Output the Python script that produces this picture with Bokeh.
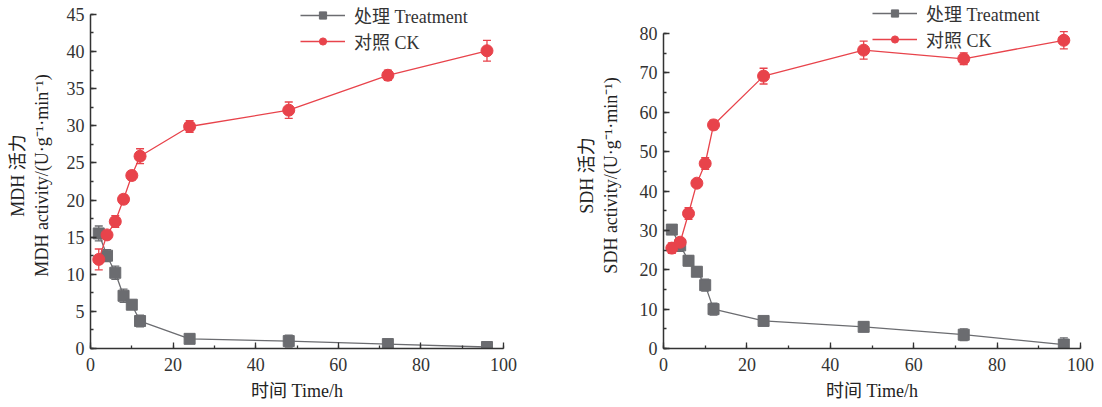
from bokeh.plotting import figure
from bokeh.layouts import row
from bokeh.models import (ColumnDataSource, Whisker, TeeHead, Legend, LegendItem, Range1d,
                          SingleIntervalTicker)
from bokeh.embed import file_html
from bokeh.resources import INLINE

time_h = [2, 4, 6, 8, 10, 12, 24, 48, 72, 96]

mdh_treat = [15.5, 12.5, 10.2, 7.1, 5.9, 3.7, 1.3, 1.0, 0.6, 0.2]
mdh_treat_err = [1.0, 0.8, 0.9, 0.9, 0.6, 0.8, 0.6, 0.8, 0.3, 0.2]
mdh_ck = [12.0, 15.3, 17.1, 20.1, 23.3, 25.9, 29.9, 32.1, 36.8, 40.1]
mdh_ck_err = [1.4, 0.5, 0.8, 0.6, 0.6, 1.0, 0.8, 1.1, 0.7, 1.4]

sdh_treat = [30.2, 26.2, 22.3, 19.5, 16.1, 10.0, 7.0, 5.5, 3.5, 1.0]
sdh_treat_err = [0.8, 1.5, 1.3, 1.2, 1.5, 1.5, 1.0, 1.2, 1.5, 1.7]
sdh_ck = [25.5, 27.0, 34.3, 42.0, 47.0, 56.8, 69.2, 75.8, 73.6, 78.3]
sdh_ck_err = [1.3, 1.0, 1.5, 0.8, 1.5, 1.2, 2.0, 2.3, 1.5, 2.2]

labels = ["处理 Treatment", "对照 CK"]
x_title = "时间 Time/h"
mdh_title = "MDH 活力\nMDH activity/(U·g\u207b\u00b9·min\u207b\u00b9)"
sdh_title = "SDH 活力\nSDH activity/(U·g\u207b\u00b9·min\u207b\u00b9)"

GRAY = "#6b6c70"
RED = "#e8434b"
FONT = "'Liberation Serif', 'Noto Sans CJK SC'"
AX = "#333333"

H = 407
BOTTOM = 59
TOP = 2


def make(treat, terr, ck, cerr, ymax, ytop, ystep, ytitle, width, border_left, border_right,
         legend_loc, ylab_standoff):
    p = figure(width=width, height=H, output_backend="svg", toolbar_location=None,
               x_range=Range1d(0, 100), y_range=Range1d(0, ytop),
               min_border_left=border_left, min_border_right=border_right,
               min_border_top=TOP, min_border_bottom=BOTTOM)
    p.outline_line_color = None
    p.grid.visible = False
    p.xaxis.ticker = SingleIntervalTicker(interval=20, num_minor_ticks=2)
    p.yaxis.ticker = SingleIntervalTicker(interval=ystep, num_minor_ticks=2)
    p.yaxis.bounds = (0, ymax)
    for ax in (p.xaxis[0], p.yaxis[0]):
        ax.axis_line_color = AX
        ax.axis_line_width = 1.5
        ax.major_tick_in = 6
        ax.major_tick_out = 0
        ax.minor_tick_in = 3
        ax.minor_tick_out = 0
        ax.major_tick_line_color = AX
        ax.minor_tick_line_color = AX
        ax.major_tick_line_width = 1.3
        ax.minor_tick_line_width = 1.3
        ax.major_label_text_font = FONT
        ax.major_label_text_font_size = "18px"
        ax.major_label_text_color = "#333333"
        ax.axis_label_text_font = FONT
        ax.axis_label_text_font_size = "18px"
        ax.axis_label_text_font_style = "normal"
        ax.axis_label_text_color = "#222222"
    p.xaxis.axis_label = x_title
    p.yaxis.axis_label = ytitle
    p.xaxis.major_label_standoff = 9
    p.yaxis.major_label_standoff = 6
    p.xaxis.axis_label_standoff = 7
    p.yaxis.axis_label_standoff = ylab_standoff

    items = []
    for vals, errs, color, marker, lab in ((treat, terr, GRAY, "square", labels[0]),
                                           (ck, cerr, RED, "circle", labels[1])):
        src = ColumnDataSource(dict(x=time_h, y=vals,
                                    lo=[v - e for v, e in zip(vals, errs)],
                                    hi=[v + e for v, e in zip(vals, errs)]))
        w = Whisker(source=src, base="x", upper="hi", lower="lo", line_color=color, line_width=1.3,
                    upper_head=TeeHead(size=8, line_color=color, line_width=1.3),
                    lower_head=TeeHead(size=8, line_color=color, line_width=1.3))
        p.add_layout(w)
        l = p.line("x", "y", source=src, line_color=color, line_width=1.3)
        s = p.scatter("x", "y", source=src, marker=marker, size=12 if marker == "circle" else 11,
                      fill_color=color, line_color=color)
        items.append(LegendItem(label=lab, renderers=[l, s]))

    leg = Legend(items=items, location=legend_loc, border_line_color=None,
                 background_fill_alpha=0, padding=0, margin=0, spacing=0,
                 glyph_width=45, glyph_height=18, label_standoff=9,
                 label_text_font=FONT, label_text_font_size="18px", label_text_color="#333333")
    p.add_layout(leg)
    return p


# left: frame x 90..503 ; 45 at y=14, 0 at y=348
p1 = make(mdh_treat, mdh_treat_err, mdh_ck, mdh_ck_err, 45, 46.6, 5, mdh_title,
          545, 90, 42, (210, 294), 12)
# right: frame x 663..1080 ; 80 at y=33, 0 at y=348
p2 = make(sdh_treat, sdh_treat_err, sdh_ck, sdh_ck_err, 80, 87.9, 10, sdh_title,
          549, 118, 14, (209, 296), 16)

layout = row(p1, p2)
open("out.html", "w").write(file_html(layout, INLINE))
